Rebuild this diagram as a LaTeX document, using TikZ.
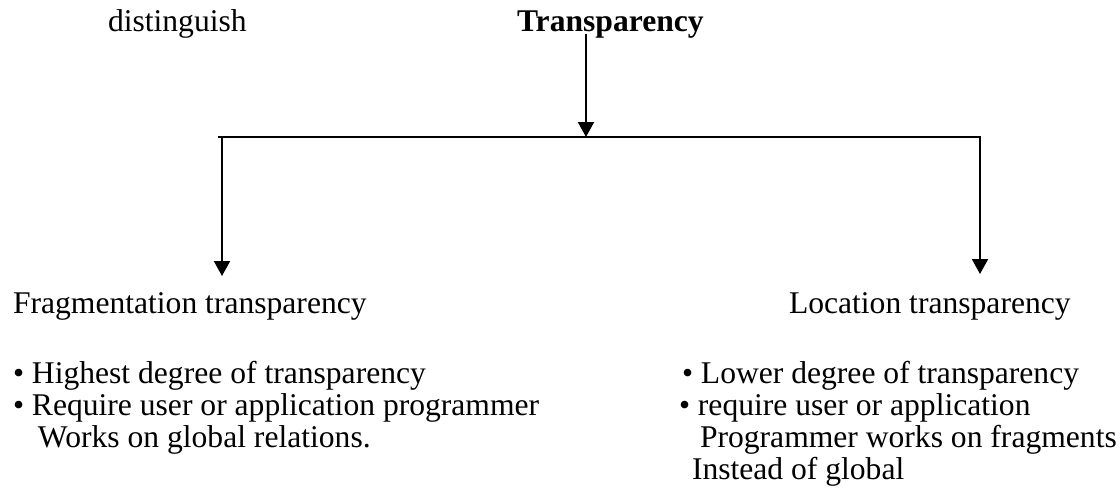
\documentclass[tikz,border=0pt]{standalone}
\usepackage{fontspec}
\setmainfont{Liberation Serif}
\usetikzlibrary{arrows.meta}
\newcommand{\bodysize}{\fontsize{15.8}{16}\selectfont}
\begin{document}
\begin{tikzpicture}[x=0.5pt,y=-0.5pt,>={Triangle[length=7.5pt,width=8pt]},line width=1pt,
	txt/.style={anchor=base west,inner sep=0pt,font=\bodysize},
	list/.style={txt,anchor=north west,align=left}]
		\useasboundingbox (0,0) rectangle (1120,500);
		% heading
		\node[txt] (dist) at (107,31) {distinguish};
		\node[txt,font=\bodysize\bfseries] (trans) at (516,31) {Transparency};
		% bar with the three arrows
		\coordinate (top) at (586,34);
		\coordinate (mid) at (586,137);
		\coordinate (barL) at (218,137);
		\coordinate (barR) at (981,137);
		\coordinate (tipL) at (222,276);
		\coordinate (tipR) at (980,274);
		\draw[->] (top)--(mid);
		\draw (barL)--(barR);
		\draw[->] (barL -| tipL)--(tipL);
		\draw[->] (barR -| tipR)--(tipR);
		% left branch
		\node[txt] (frag) at (12,313) {Fragmentation transparency};
		\node[list] (fragList) at (12,360.5) {\textbullet\ Highest degree of transparency\\
			\textbullet\ Require user or application programmer\\
			\hspace*{12.5pt}Works on global relations.};
		% right branch
		\node[txt] (loc) at (788,313) {Location transparency};
		\node[list] (locList) at (678,360.5) {\hspace*{1.5pt}\textbullet\ Lower degree of transparency\\
			\textbullet\ require user or application\\
			\hspace*{10.5pt}Programmer works on fragments\\
			\hspace*{6.5pt}Instead of global};
\end{tikzpicture}
\end{document}
